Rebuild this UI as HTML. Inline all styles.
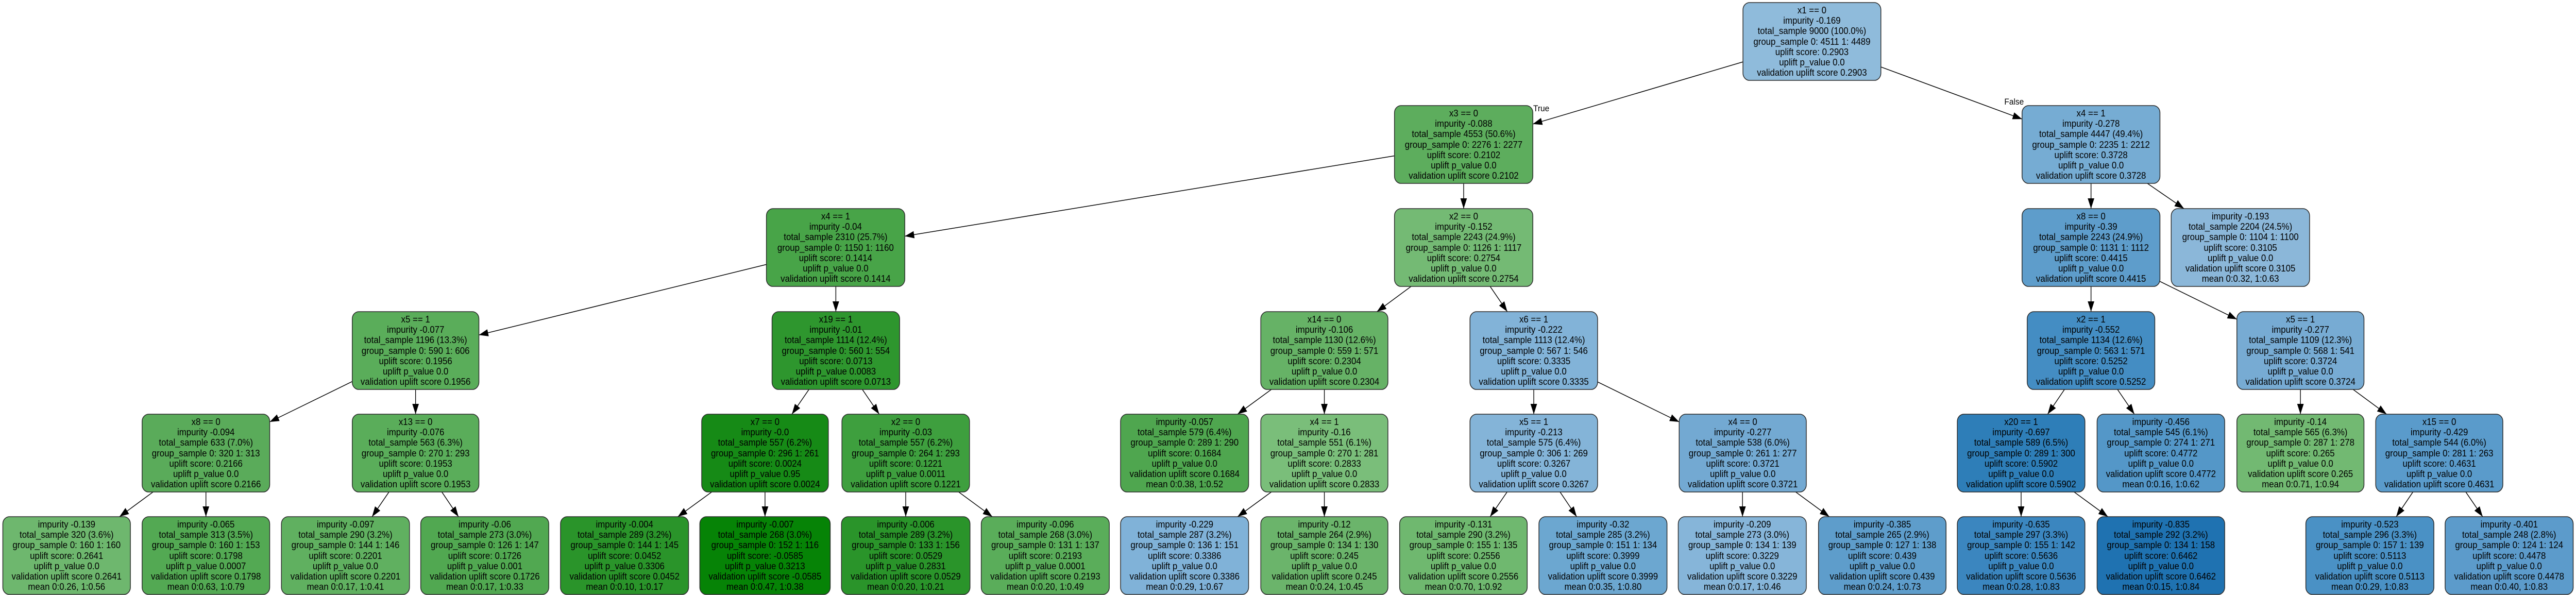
<!DOCTYPE html>
<html><head><meta charset="utf-8"><style>
html,body{margin:0;padding:0;background:#fff;width:100%;height:100%;overflow:hidden;}
svg{display:block;width:100vw;height:100vh;}
text{font-family:"Liberation Sans",Arial,sans-serif;font-size:18.5px;fill:#000;text-anchor:middle;}
rect.n{stroke:#2b2b2b;stroke-width:1.6;}
line{stroke:#000;stroke-width:1.5;}
</style></head><body>
<svg viewBox="0 0 5492 1155" preserveAspectRatio="none" xmlns="http://www.w3.org/2000/svg">
<defs><marker id="a" markerUnits="userSpaceOnUse" markerWidth="22" markerHeight="16" refX="20" refY="7" orient="auto"><path d="M0,0 L20,7 L0,14 z" fill="#000"/></marker></defs>
<g marker-end="url(#a)">
<line x1="3716" y1="120.1" x2="3268" y2="240.8"/>
<line x1="4010" y1="129.9" x2="4311" y2="231.1"/>
<line x1="2973" y1="302.5" x2="1929" y2="458.5"/>
<line x1="3120.5" y1="356" x2="3120.5" y2="405"/>
<line x1="1634" y1="513.4" x2="1021" y2="650.3"/>
<line x1="1782" y1="556" x2="1782" y2="605"/>
<line x1="751" y1="740.6" x2="575" y2="819"/>
<line x1="886" y1="756" x2="886" y2="804"/>
<line x1="326.3" y1="955" x2="254.7" y2="1003"/>
<line x1="439" y1="955" x2="439" y2="1003"/>
<line x1="829.3" y1="955" x2="793.2" y2="1003"/>
<line x1="942" y1="955" x2="977.5" y2="1003"/>
<line x1="1724.7" y1="756" x2="1688.3" y2="804"/>
<line x1="1838.5" y1="756" x2="1874.5" y2="804"/>
<line x1="1517.4" y1="955" x2="1445.1" y2="1003"/>
<line x1="1631" y1="955" x2="1631" y2="1003"/>
<line x1="1931" y1="955" x2="1931" y2="1003"/>
<line x1="2043.9" y1="955" x2="2115.6" y2="1003"/>
<line x1="3008.4" y1="556" x2="2935.6" y2="605"/>
<line x1="3176.9" y1="556" x2="3213.6" y2="605"/>
<line x1="2710.5" y1="756" x2="2638.5" y2="804"/>
<line x1="2823.5" y1="756" x2="2823.5" y2="804"/>
<line x1="2710.5" y1="955" x2="2638.5" y2="1003"/>
<line x1="2823.5" y1="955" x2="2823.5" y2="1003"/>
<line x1="3270" y1="756" x2="3270" y2="804"/>
<line x1="3406" y1="741.3" x2="3580" y2="819"/>
<line x1="3213.1" y1="955" x2="3176.9" y2="1003"/>
<line x1="3326" y1="955" x2="3361.5" y2="1003"/>
<line x1="3715" y1="955" x2="3715" y2="1003"/>
<line x1="3828.4" y1="955" x2="3900.1" y2="1003"/>
<line x1="4458" y1="356" x2="4458" y2="405"/>
<line x1="4578.2" y1="356" x2="4656.3" y2="405"/>
<line x1="4458" y1="556" x2="4458" y2="605"/>
<line x1="4605" y1="546.3" x2="4769" y2="619.8"/>
<line x1="4401.5" y1="756" x2="4365.5" y2="804"/>
<line x1="4514.5" y1="756" x2="4550.5" y2="804"/>
<line x1="4904.5" y1="756" x2="4904.5" y2="804"/>
<line x1="5016.8" y1="756" x2="5088.2" y2="804"/>
<line x1="4309" y1="955" x2="4309" y2="1003"/>
<line x1="4422" y1="955" x2="4494" y2="1003"/>
<line x1="5144.3" y1="955" x2="5108.7" y2="1003"/>
<line x1="5257" y1="955" x2="5293" y2="1003"/>
</g>
<text x="3286" y="216" style="font-size:17px">True</text>
<text x="4294" y="203" style="font-size:17px">False</text>

<g transform="translate(3863,5)"><rect class="n" x="-147" y="0" width="294" height="151" rx="14" fill="#8fbbdb"/><text><tspan x="0" y="21">x1 == 0</tspan><tspan x="0" y="41">impurity -0.169</tspan><tspan x="0" y="61">total_sample 9000 (100.0%)</tspan><tspan x="0" y="82">group_sample  0: 4511 1: 4489</tspan><tspan x="0" y="102">uplift score: 0.2903</tspan><tspan x="0" y="122">uplift p_value 0.0</tspan><tspan x="0" y="142">validation uplift score 0.2903</tspan></text></g>

<g transform="translate(3120.5,205)"><rect class="n" x="-147.5" y="0" width="295" height="151" rx="14" fill="#5dad5d"/><text><tspan x="0" y="21">x3 == 0</tspan><tspan x="0" y="41">impurity -0.088</tspan><tspan x="0" y="61">total_sample 4553 (50.6%)</tspan><tspan x="0" y="82">group_sample  0: 2276 1: 2277</tspan><tspan x="0" y="102">uplift score: 0.2102</tspan><tspan x="0" y="122">uplift p_value 0.0</tspan><tspan x="0" y="142">validation uplift score 0.2102</tspan></text></g>
<g transform="translate(4458,205)"><rect class="n" x="-147" y="0" width="294" height="151" rx="14" fill="#76acd3"/><text><tspan x="0" y="21">x4 == 1</tspan><tspan x="0" y="41">impurity -0.278</tspan><tspan x="0" y="61">total_sample 4447 (49.4%)</tspan><tspan x="0" y="82">group_sample  0: 2235 1: 2212</tspan><tspan x="0" y="102">uplift score: 0.3728</tspan><tspan x="0" y="122">uplift p_value 0.0</tspan><tspan x="0" y="142">validation uplift score 0.3728</tspan></text></g>

<g transform="translate(1781.5,405)"><rect class="n" x="-147.5" y="0" width="295" height="151" rx="14" fill="#48a448"/><text><tspan x="0" y="21">x4 == 1</tspan><tspan x="0" y="41">impurity -0.04</tspan><tspan x="0" y="61">total_sample 2310 (25.7%)</tspan><tspan x="0" y="82">group_sample  0: 1150 1: 1160</tspan><tspan x="0" y="102">uplift score: 0.1414</tspan><tspan x="0" y="122">uplift p_value 0.0</tspan><tspan x="0" y="142">validation uplift score 0.1414</tspan></text></g>
<g transform="translate(3120.5,405)"><rect class="n" x="-147.5" y="0" width="295" height="151" rx="14" fill="#74ba74"/><text><tspan x="0" y="21">x2 == 0</tspan><tspan x="0" y="41">impurity -0.152</tspan><tspan x="0" y="61">total_sample 2243 (24.9%)</tspan><tspan x="0" y="82">group_sample  0: 1126 1: 1117</tspan><tspan x="0" y="102">uplift score: 0.2754</tspan><tspan x="0" y="122">uplift p_value 0.0</tspan><tspan x="0" y="142">validation uplift score 0.2754</tspan></text></g>
<g transform="translate(4458,405)"><rect class="n" x="-147" y="0" width="294" height="151" rx="14" fill="#5e9dcb"/><text><tspan x="0" y="21">x8 == 0</tspan><tspan x="0" y="41">impurity -0.39</tspan><tspan x="0" y="61">total_sample 2243 (24.9%)</tspan><tspan x="0" y="82">group_sample  0: 1131 1: 1112</tspan><tspan x="0" y="102">uplift score: 0.4415</tspan><tspan x="0" y="122">uplift p_value 0.0</tspan><tspan x="0" y="142">validation uplift score 0.4415</tspan></text></g>
<g transform="translate(4776.5,405)"><rect class="n" x="-147.5" y="0" width="295" height="151" rx="14" fill="#8bb7d9"/><text><tspan x="0" y="21">impurity -0.193</tspan><tspan x="0" y="41">total_sample 2204 (24.5%)</tspan><tspan x="0" y="61">group_sample  0: 1104 1: 1100</tspan><tspan x="0" y="82">uplift score: 0.3105</tspan><tspan x="0" y="102">uplift p_value 0.0</tspan><tspan x="0" y="122">validation uplift score 0.3105</tspan><tspan x="0" y="142">mean 0:0.32, 1:0.63</tspan></text></g>

<g transform="translate(886,605)"><rect class="n" x="-135" y="0" width="270" height="151" rx="14" fill="#5aad5a"/><text><tspan x="0" y="21">x5 == 1</tspan><tspan x="0" y="41">impurity -0.077</tspan><tspan x="0" y="61">total_sample 1196 (13.3%)</tspan><tspan x="0" y="82">group_sample  0: 590 1: 606</tspan><tspan x="0" y="102">uplift score: 0.1956</tspan><tspan x="0" y="122">uplift p_value 0.0</tspan><tspan x="0" y="142">validation uplift score 0.1956</tspan></text></g>
<g transform="translate(1782,605)"><rect class="n" x="-136" y="0" width="272" height="151" rx="14" fill="#2e962e"/><text><tspan x="0" y="21">x19 == 1</tspan><tspan x="0" y="41">impurity -0.01</tspan><tspan x="0" y="61">total_sample 1114 (12.4%)</tspan><tspan x="0" y="82">group_sample  0: 560 1: 554</tspan><tspan x="0" y="102">uplift score: 0.0713</tspan><tspan x="0" y="122">uplift p_value 0.0083</tspan><tspan x="0" y="142">validation uplift score 0.0713</tspan></text></g>
<g transform="translate(2823.5,605)"><rect class="n" x="-135.5" y="0" width="271" height="151" rx="14" fill="#66b266"/><text><tspan x="0" y="21">x14 == 0</tspan><tspan x="0" y="41">impurity -0.106</tspan><tspan x="0" y="61">total_sample 1130 (12.6%)</tspan><tspan x="0" y="82">group_sample  0: 559 1: 571</tspan><tspan x="0" y="102">uplift score: 0.2304</tspan><tspan x="0" y="122">uplift p_value 0.0</tspan><tspan x="0" y="142">validation uplift score 0.2304</tspan></text></g>
<g transform="translate(3270,605)"><rect class="n" x="-136" y="0" width="272" height="151" rx="14" fill="#82b3d8"/><text><tspan x="0" y="21">x6 == 1</tspan><tspan x="0" y="41">impurity -0.222</tspan><tspan x="0" y="61">total_sample 1113 (12.4%)</tspan><tspan x="0" y="82">group_sample  0: 567 1: 546</tspan><tspan x="0" y="102">uplift score: 0.3335</tspan><tspan x="0" y="122">uplift p_value 0.0</tspan><tspan x="0" y="142">validation uplift score 0.3335</tspan></text></g>
<g transform="translate(4458,605)"><rect class="n" x="-136" y="0" width="272" height="151" rx="14" fill="#448dc3"/><text><tspan x="0" y="21">x2 == 1</tspan><tspan x="0" y="41">impurity -0.552</tspan><tspan x="0" y="61">total_sample 1134 (12.6%)</tspan><tspan x="0" y="82">group_sample  0: 563 1: 571</tspan><tspan x="0" y="102">uplift score: 0.5252</tspan><tspan x="0" y="122">uplift p_value 0.0</tspan><tspan x="0" y="142">validation uplift score 0.5252</tspan></text></g>
<g transform="translate(4904.5,605)"><rect class="n" x="-135.5" y="0" width="271" height="151" rx="14" fill="#77abd3"/><text><tspan x="0" y="21">x5 == 1</tspan><tspan x="0" y="41">impurity -0.277</tspan><tspan x="0" y="61">total_sample 1109 (12.3%)</tspan><tspan x="0" y="82">group_sample  0: 568 1: 541</tspan><tspan x="0" y="102">uplift score: 0.3724</tspan><tspan x="0" y="122">uplift p_value 0.0</tspan><tspan x="0" y="142">validation uplift score 0.3724</tspan></text></g>

<g transform="translate(439,804)"><rect class="n" x="-136" y="0" width="272" height="151" rx="14" fill="#5aab5a"/><text><tspan x="0" y="21">x8 == 0</tspan><tspan x="0" y="41">impurity -0.094</tspan><tspan x="0" y="61">total_sample 633 (7.0%)</tspan><tspan x="0" y="82">group_sample  0: 320 1: 313</tspan><tspan x="0" y="102">uplift score: 0.2166</tspan><tspan x="0" y="122">uplift p_value 0.0</tspan><tspan x="0" y="142">validation uplift score 0.2166</tspan></text></g>
<g transform="translate(886,804)"><rect class="n" x="-135" y="0" width="270" height="151" rx="14" fill="#5aad5a"/><text><tspan x="0" y="21">x13 == 0</tspan><tspan x="0" y="41">impurity -0.076</tspan><tspan x="0" y="61">total_sample 563 (6.3%)</tspan><tspan x="0" y="82">group_sample  0: 270 1: 293</tspan><tspan x="0" y="102">uplift score: 0.1953</tspan><tspan x="0" y="122">uplift p_value 0.0</tspan><tspan x="0" y="142">validation uplift score 0.1953</tspan></text></g>
<g transform="translate(1631,804)"><rect class="n" x="-135" y="0" width="270" height="151" rx="14" fill="#168a16"/><text><tspan x="0" y="21">x7 == 0</tspan><tspan x="0" y="41">impurity -0.0</tspan><tspan x="0" y="61">total_sample 557 (6.2%)</tspan><tspan x="0" y="82">group_sample  0: 296 1: 261</tspan><tspan x="0" y="102">uplift score: 0.0024</tspan><tspan x="0" y="122">uplift p_value 0.95</tspan><tspan x="0" y="142">validation uplift score 0.0024</tspan></text></g>
<g transform="translate(1931,804)"><rect class="n" x="-136" y="0" width="272" height="151" rx="14" fill="#3e9f3e"/><text><tspan x="0" y="21">x2 == 0</tspan><tspan x="0" y="41">impurity -0.03</tspan><tspan x="0" y="61">total_sample 557 (6.2%)</tspan><tspan x="0" y="82">group_sample  0: 264 1: 293</tspan><tspan x="0" y="102">uplift score: 0.1221</tspan><tspan x="0" y="122">uplift p_value 0.0011</tspan><tspan x="0" y="142">validation uplift score 0.1221</tspan></text></g>
<g transform="translate(2525.5,804)"><rect class="n" x="-136.5" y="0" width="273" height="151" rx="14" fill="#4fa64f"/><text><tspan x="0" y="21">impurity -0.057</tspan><tspan x="0" y="41">total_sample 579 (6.4%)</tspan><tspan x="0" y="61">group_sample  0: 289 1: 290</tspan><tspan x="0" y="82">uplift score: 0.1684</tspan><tspan x="0" y="102">uplift p_value 0.0</tspan><tspan x="0" y="122">validation uplift score 0.1684</tspan><tspan x="0" y="142">mean 0:0.38, 1:0.52</tspan></text></g>
<g transform="translate(2823.5,804)"><rect class="n" x="-135.5" y="0" width="271" height="151" rx="14" fill="#7abe7a"/><text><tspan x="0" y="21">x4 == 1</tspan><tspan x="0" y="41">impurity -0.16</tspan><tspan x="0" y="61">total_sample 551 (6.1%)</tspan><tspan x="0" y="82">group_sample  0: 270 1: 281</tspan><tspan x="0" y="102">uplift score: 0.2833</tspan><tspan x="0" y="122">uplift p_value 0.0</tspan><tspan x="0" y="142">validation uplift score 0.2833</tspan></text></g>
<g transform="translate(3270,804)"><rect class="n" x="-136" y="0" width="272" height="151" rx="14" fill="#84b4d8"/><text><tspan x="0" y="21">x5 == 1</tspan><tspan x="0" y="41">impurity -0.213</tspan><tspan x="0" y="61">total_sample 575 (6.4%)</tspan><tspan x="0" y="82">group_sample  0: 306 1: 269</tspan><tspan x="0" y="102">uplift score: 0.3267</tspan><tspan x="0" y="122">uplift p_value 0.0</tspan><tspan x="0" y="142">validation uplift score 0.3267</tspan></text></g>
<g transform="translate(3715.5,804)"><rect class="n" x="-135.5" y="0" width="271" height="151" rx="14" fill="#73a9d2"/><text><tspan x="0" y="21">x4 == 0</tspan><tspan x="0" y="41">impurity -0.277</tspan><tspan x="0" y="61">total_sample 538 (6.0%)</tspan><tspan x="0" y="82">group_sample  0: 261 1: 277</tspan><tspan x="0" y="102">uplift score: 0.3721</tspan><tspan x="0" y="122">uplift p_value 0.0</tspan><tspan x="0" y="142">validation uplift score 0.3721</tspan></text></g>
<g transform="translate(4309,804)"><rect class="n" x="-136" y="0" width="272" height="151" rx="14" fill="#2e7eb8"/><text><tspan x="0" y="21">x20 == 1</tspan><tspan x="0" y="41">impurity -0.697</tspan><tspan x="0" y="61">total_sample 589 (6.5%)</tspan><tspan x="0" y="82">group_sample  0: 289 1: 300</tspan><tspan x="0" y="102">uplift score: 0.5902</tspan><tspan x="0" y="122">uplift p_value 0.0</tspan><tspan x="0" y="142">validation uplift score 0.5902</tspan></text></g>
<g transform="translate(4607,804)"><rect class="n" x="-136" y="0" width="272" height="151" rx="14" fill="#5497c8"/><text><tspan x="0" y="21">impurity -0.456</tspan><tspan x="0" y="41">total_sample 545 (6.1%)</tspan><tspan x="0" y="61">group_sample  0: 274 1: 271</tspan><tspan x="0" y="82">uplift score: 0.4772</tspan><tspan x="0" y="102">uplift p_value 0.0</tspan><tspan x="0" y="122">validation uplift score 0.4772</tspan><tspan x="0" y="142">mean 0:0.16, 1:0.62</tspan></text></g>
<g transform="translate(4904.5,804)"><rect class="n" x="-135.5" y="0" width="271" height="151" rx="14" fill="#72b972"/><text><tspan x="0" y="21">impurity -0.14</tspan><tspan x="0" y="41">total_sample 565 (6.3%)</tspan><tspan x="0" y="61">group_sample  0: 287 1: 278</tspan><tspan x="0" y="82">uplift score: 0.265</tspan><tspan x="0" y="102">uplift p_value 0.0</tspan><tspan x="0" y="122">validation uplift score 0.265</tspan><tspan x="0" y="142">mean 0:0.71, 1:0.94</tspan></text></g>
<g transform="translate(5200.5,804)"><rect class="n" x="-135.5" y="0" width="271" height="151" rx="14" fill="#5a9bcb"/><text><tspan x="0" y="21">x15 == 0</tspan><tspan x="0" y="41">impurity -0.429</tspan><tspan x="0" y="61">total_sample 544 (6.0%)</tspan><tspan x="0" y="82">group_sample  0: 281 1: 263</tspan><tspan x="0" y="102">uplift score: 0.4631</tspan><tspan x="0" y="122">uplift p_value 0.0</tspan><tspan x="0" y="142">validation uplift score 0.4631</tspan></text></g>

<g transform="translate(142,1003)"><rect class="n" x="-136" y="0" width="272" height="151" rx="14" fill="#6eb76e"/><text><tspan x="0" y="21">impurity -0.139</tspan><tspan x="0" y="41">total_sample 320 (3.6%)</tspan><tspan x="0" y="61">group_sample  0: 160 1: 160</tspan><tspan x="0" y="82">uplift score: 0.2641</tspan><tspan x="0" y="102">uplift p_value 0.0</tspan><tspan x="0" y="122">validation uplift score 0.2641</tspan><tspan x="0" y="142">mean 0:0.26, 1:0.56</tspan></text></g>
<g transform="translate(439,1003)"><rect class="n" x="-136" y="0" width="272" height="151" rx="14" fill="#53a953"/><text><tspan x="0" y="21">impurity -0.065</tspan><tspan x="0" y="41">total_sample 313 (3.5%)</tspan><tspan x="0" y="61">group_sample  0: 160 1: 153</tspan><tspan x="0" y="82">uplift score: 0.1798</tspan><tspan x="0" y="102">uplift p_value 0.0007</tspan><tspan x="0" y="122">validation uplift score 0.1798</tspan><tspan x="0" y="142">mean 0:0.63, 1:0.79</tspan></text></g>
<g transform="translate(736.5,1003)"><rect class="n" x="-136.5" y="0" width="273" height="151" rx="14" fill="#60b060"/><text><tspan x="0" y="21">impurity -0.097</tspan><tspan x="0" y="41">total_sample 290 (3.2%)</tspan><tspan x="0" y="61">group_sample  0: 144 1: 146</tspan><tspan x="0" y="82">uplift score: 0.2201</tspan><tspan x="0" y="102">uplift p_value 0.0</tspan><tspan x="0" y="122">validation uplift score 0.2201</tspan><tspan x="0" y="142">mean 0:0.17, 1:0.41</tspan></text></g>
<g transform="translate(1033.5,1003)"><rect class="n" x="-136.5" y="0" width="273" height="151" rx="14" fill="#51a851"/><text><tspan x="0" y="21">impurity -0.06</tspan><tspan x="0" y="41">total_sample 273 (3.0%)</tspan><tspan x="0" y="61">group_sample  0: 126 1: 147</tspan><tspan x="0" y="82">uplift score: 0.1726</tspan><tspan x="0" y="102">uplift p_value 0.001</tspan><tspan x="0" y="122">validation uplift score 0.1726</tspan><tspan x="0" y="142">mean 0:0.17, 1:0.33</tspan></text></g>
<g transform="translate(1331.5,1003)"><rect class="n" x="-136.5" y="0" width="273" height="151" rx="14" fill="#2a942a"/><text><tspan x="0" y="21">impurity -0.004</tspan><tspan x="0" y="41">total_sample 289 (3.2%)</tspan><tspan x="0" y="61">group_sample  0: 144 1: 145</tspan><tspan x="0" y="82">uplift score: 0.0452</tspan><tspan x="0" y="102">uplift p_value 0.3306</tspan><tspan x="0" y="122">validation uplift score 0.0452</tspan><tspan x="0" y="142">mean 0:0.10, 1:0.17</tspan></text></g>
<g transform="translate(1631,1003)"><rect class="n" x="-139" y="0" width="278" height="151" rx="14" fill="#068306"/><text><tspan x="0" y="21">impurity -0.007</tspan><tspan x="0" y="41">total_sample 268 (3.0%)</tspan><tspan x="0" y="61">group_sample  0: 152 1: 116</tspan><tspan x="0" y="82">uplift score: -0.0585</tspan><tspan x="0" y="102">uplift p_value 0.3213</tspan><tspan x="0" y="122">validation uplift score -0.0585</tspan><tspan x="0" y="142">mean 0:0.47, 1:0.38</tspan></text></g>
<g transform="translate(1931,1003)"><rect class="n" x="-137" y="0" width="274" height="151" rx="14" fill="#2a942a"/><text><tspan x="0" y="21">impurity -0.006</tspan><tspan x="0" y="41">total_sample 289 (3.2%)</tspan><tspan x="0" y="61">group_sample  0: 133 1: 156</tspan><tspan x="0" y="82">uplift score: 0.0529</tspan><tspan x="0" y="102">uplift p_value 0.2831</tspan><tspan x="0" y="122">validation uplift score 0.0529</tspan><tspan x="0" y="142">mean 0:0.20, 1:0.21</tspan></text></g>
<g transform="translate(2228.5,1003)"><rect class="n" x="-136.5" y="0" width="273" height="151" rx="14" fill="#5aad5a"/><text><tspan x="0" y="21">impurity -0.096</tspan><tspan x="0" y="41">total_sample 268 (3.0%)</tspan><tspan x="0" y="61">group_sample  0: 131 1: 137</tspan><tspan x="0" y="82">uplift score: 0.2193</tspan><tspan x="0" y="102">uplift p_value 0.0001</tspan><tspan x="0" y="122">validation uplift score 0.2193</tspan><tspan x="0" y="142">mean 0:0.20, 1:0.49</tspan></text></g>
<g transform="translate(2525.5,1003)"><rect class="n" x="-136.5" y="0" width="273" height="151" rx="14" fill="#80b2d8"/><text><tspan x="0" y="21">impurity -0.229</tspan><tspan x="0" y="41">total_sample 287 (3.2%)</tspan><tspan x="0" y="61">group_sample  0: 136 1: 151</tspan><tspan x="0" y="82">uplift score: 0.3386</tspan><tspan x="0" y="102">uplift p_value 0.0</tspan><tspan x="0" y="122">validation uplift score 0.3386</tspan><tspan x="0" y="142">mean 0:0.29, 1:0.67</tspan></text></g>
<g transform="translate(2823.5,1003)"><rect class="n" x="-135.5" y="0" width="271" height="151" rx="14" fill="#6bb46b"/><text><tspan x="0" y="21">impurity -0.12</tspan><tspan x="0" y="41">total_sample 264 (2.9%)</tspan><tspan x="0" y="61">group_sample  0: 134 1: 130</tspan><tspan x="0" y="82">uplift score: 0.245</tspan><tspan x="0" y="102">uplift p_value 0.0</tspan><tspan x="0" y="122">validation uplift score 0.245</tspan><tspan x="0" y="142">mean 0:0.24, 1:0.45</tspan></text></g>
<g transform="translate(3120,1003)"><rect class="n" x="-136" y="0" width="272" height="151" rx="14" fill="#6fb86f"/><text><tspan x="0" y="21">impurity -0.131</tspan><tspan x="0" y="41">total_sample 290 (3.2%)</tspan><tspan x="0" y="61">group_sample  0: 155 1: 135</tspan><tspan x="0" y="82">uplift score: 0.2556</tspan><tspan x="0" y="102">uplift p_value 0.0</tspan><tspan x="0" y="122">validation uplift score 0.2556</tspan><tspan x="0" y="142">mean 0:0.70, 1:0.92</tspan></text></g>
<g transform="translate(3417.5,1003)"><rect class="n" x="-136.5" y="0" width="273" height="151" rx="14" fill="#6ca7d0"/><text><tspan x="0" y="21">impurity -0.32</tspan><tspan x="0" y="41">total_sample 285 (3.2%)</tspan><tspan x="0" y="61">group_sample  0: 151 1: 134</tspan><tspan x="0" y="82">uplift score: 0.3999</tspan><tspan x="0" y="102">uplift p_value 0.0</tspan><tspan x="0" y="122">validation uplift score 0.3999</tspan><tspan x="0" y="142">mean 0:0.35, 1:0.80</tspan></text></g>
<g transform="translate(3714.5,1003)"><rect class="n" x="-136.5" y="0" width="273" height="151" rx="14" fill="#86b5d9"/><text><tspan x="0" y="21">impurity -0.209</tspan><tspan x="0" y="41">total_sample 273 (3.0%)</tspan><tspan x="0" y="61">group_sample  0: 134 1: 139</tspan><tspan x="0" y="82">uplift score: 0.3229</tspan><tspan x="0" y="102">uplift p_value 0.0</tspan><tspan x="0" y="122">validation uplift score 0.3229</tspan><tspan x="0" y="142">mean 0:0.17, 1:0.46</tspan></text></g>
<g transform="translate(4013,1003)"><rect class="n" x="-136" y="0" width="272" height="151" rx="14" fill="#5e9dcb"/><text><tspan x="0" y="21">impurity -0.385</tspan><tspan x="0" y="41">total_sample 265 (2.9%)</tspan><tspan x="0" y="61">group_sample  0: 127 1: 138</tspan><tspan x="0" y="82">uplift score: 0.439</tspan><tspan x="0" y="102">uplift p_value 0.0</tspan><tspan x="0" y="122">validation uplift score 0.439</tspan><tspan x="0" y="142">mean 0:0.24, 1:0.73</tspan></text></g>
<g transform="translate(4309,1003)"><rect class="n" x="-136" y="0" width="272" height="151" rx="14" fill="#3b86bf"/><text><tspan x="0" y="21">impurity -0.635</tspan><tspan x="0" y="41">total_sample 297 (3.3%)</tspan><tspan x="0" y="61">group_sample  0: 155 1: 142</tspan><tspan x="0" y="82">uplift score: 0.5636</tspan><tspan x="0" y="102">uplift p_value 0.0</tspan><tspan x="0" y="122">validation uplift score 0.5636</tspan><tspan x="0" y="142">mean 0:0.28, 1:0.83</tspan></text></g>
<g transform="translate(4607,1003)"><rect class="n" x="-136" y="0" width="272" height="151" rx="14" fill="#1f72b1"/><text><tspan x="0" y="21">impurity -0.835</tspan><tspan x="0" y="41">total_sample 292 (3.2%)</tspan><tspan x="0" y="61">group_sample  0: 134 1: 158</tspan><tspan x="0" y="82">uplift score: 0.6462</tspan><tspan x="0" y="102">uplift p_value 0.0</tspan><tspan x="0" y="122">validation uplift score 0.6462</tspan><tspan x="0" y="142">mean 0:0.15, 1:0.84</tspan></text></g>
<g transform="translate(5052.5,1003)"><rect class="n" x="-136.5" y="0" width="273" height="151" rx="14" fill="#4a91c5"/><text><tspan x="0" y="21">impurity -0.523</tspan><tspan x="0" y="41">total_sample 296 (3.3%)</tspan><tspan x="0" y="61">group_sample  0: 157 1: 139</tspan><tspan x="0" y="82">uplift score: 0.5113</tspan><tspan x="0" y="102">uplift p_value 0.0</tspan><tspan x="0" y="122">validation uplift score 0.5113</tspan><tspan x="0" y="142">mean 0:0.29, 1:0.83</tspan></text></g>
<g transform="translate(5349.5,1003)"><rect class="n" x="-136.5" y="0" width="273" height="151" rx="14" fill="#5c9bcb"/><text><tspan x="0" y="21">impurity -0.401</tspan><tspan x="0" y="41">total_sample 248 (2.8%)</tspan><tspan x="0" y="61">group_sample  0: 124 1: 124</tspan><tspan x="0" y="82">uplift score: 0.4478</tspan><tspan x="0" y="102">uplift p_value 0.0</tspan><tspan x="0" y="122">validation uplift score 0.4478</tspan><tspan x="0" y="142">mean 0:0.40, 1:0.83</tspan></text></g>
</svg>
</body></html>
